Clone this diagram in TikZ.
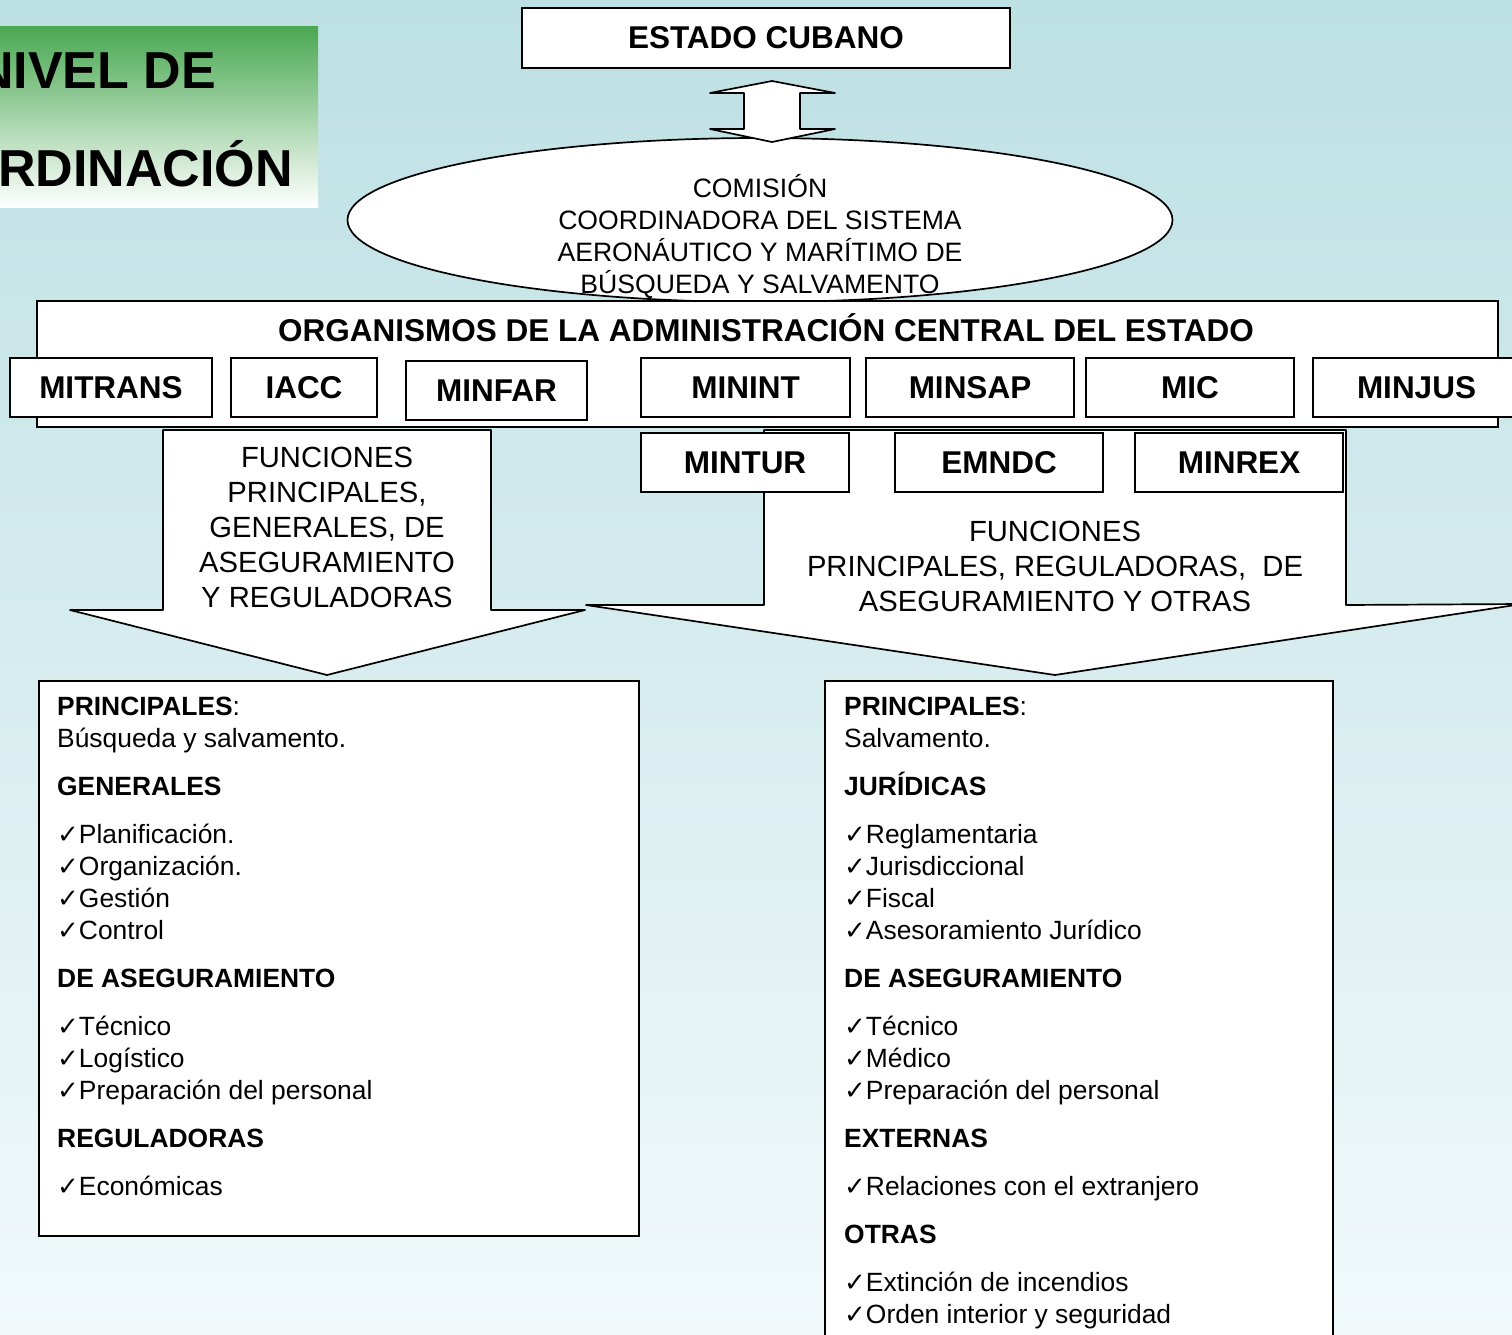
\documentclass[tikz,border=0pt]{standalone}
\usepackage{fontspec}
\setmainfont{Liberation Sans}
\newfontfamily\dejavu{DejaVu Sans}
\usetikzlibrary{shapes.geometric}
\definecolor{bgtop}{HTML}{BDE0E3}
\definecolor{bgbot}{HTML}{F1F9FB}
\definecolor{ttgreen}{HTML}{4AA852}
\newcommand\chk{{\dejavu\fontsize{26}{26}\selectfont ✓}}
\begin{document}
\begin{tikzpicture}[x=1pt,y=-1pt,line join=miter,
  box/.style={draw=black,fill=white,line width=1.7pt,inner sep=0pt},
  agency/.style={box,minimum width=208pt,minimum height=59pt,font=\bfseries\fontsize{31.5}{37}\selectfont},
  arrowtxt/.style={anchor=base,inner sep=0pt,font=\fontsize{29.2}{35}\selectfont},
  elltxt/.style={anchor=base,inner sep=0pt,font=\fontsize{26.6}{32}\selectfont},
  listline/.style={anchor=base west,inner sep=0pt,font=\fontsize{26.4}{32}\selectfont},
  titletxt/.style={anchor=base west,inner sep=0pt,font=\bfseries\fontsize{52}{60}\selectfont}]
\clip (0,0) rectangle (1512,1335);
\shade[top color=bgtop,bottom color=bgbot] (0,0) rectangle (1512,1335);
% title
\shade[top color=ttgreen,bottom color=white] (0,27) rectangle (318,207);
\node[titletxt] (t1) at (-24,89) {NIVEL DE};
\node[titletxt] (t2) at (-2,186) {RDINACIÓN};
% estado
\node[box,minimum width=488pt,minimum height=60pt,font=\bfseries\fontsize{31.5}{37}\selectfont] (estado) at (766,38) {ESTADO CUBANO};
% ellipse
\node[ellipse,box,minimum width=825pt,minimum height=164pt] (comision) at (760,220) {};
\draw[box,line join=round] (772,81) -- (835,93) -- (800,93) -- (800,129) -- (835,129) -- (772,142)
  -- (710,129) -- (744,129) -- (744,93) -- (710,93) -- cycle;
\node[elltxt] (c1) at (760,197.5) {COMISIÓN};
\node[elltxt] (c2) at (760,229.5) {COORDINADORA DEL SISTEMA};
\node[elltxt] (c3) at (760,261.5) {AERONÁUTICO Y MARÍTIMO DE};
\node[elltxt] (c4) at (760,293.5) {BÚSQUEDA Y SALVAMENTO};
% organismos
\node[box,anchor=north west,minimum width=1461pt,minimum height=126pt] (oace) at (36,300) {};
\node[anchor=base,inner sep=0pt,font=\bfseries\fontsize{31.5}{37}\selectfont] (oacet) at (766,341) {ORGANISMOS DE LA ADMINISTRACIÓN CENTRAL DEL ESTADO};
\node[agency,minimum width=202pt] (mitrans) at (111,387.5) {MITRANS};
\node[agency,minimum width=146pt] (iacc) at (304,387.5) {IACC};
\node[agency,minimum width=181pt] (minfar) at (496.5,390.5) {MINFAR};
\node[agency,minimum width=209pt] (minint) at (745.5,387.5) {MININT};
\node[agency] (minsap) at (970,387.5) {MINSAP};
\node[agency] (mic) at (1190,387.5) {MIC};
\node[agency,minimum width=207pt] (minjus) at (1416.5,387.5) {MINJUS};
% arrows
\draw[box,line join=round] (163,430) -- (491,430) -- (491,610) -- (585,610) -- (327,675) -- (70,610) -- (163,610) -- cycle;
\draw[box,line join=round] (764,430) -- (1346,430) -- (1346,605) -- (1522,604) -- (1055,675) -- (586,605) -- (764,605) -- cycle;
\node[agency] (mintur) at (745,462.5) {MINTUR};
\node[agency] (emndc) at (999,462.5) {EMNDC};
\node[agency] (minrex) at (1239,462.5) {MINREX};
\foreach \yy/\txt [count=\i] in {467.5/FUNCIONES,502.5/{PRINCIPALES,},537.5/{GENERALES, DE},572.5/ASEGURAMIENTO,607.5/Y REGULADORAS}
  \node[arrowtxt,name=fa\i] at (327,\yy) {\txt};
\foreach \yy/\txt [count=\i] in {541.5/FUNCIONES,576.5/{PRINCIPALES, REGULADORAS,\ \ DE},611.5/ASEGURAMIENTO Y OTRAS}
  \node[arrowtxt,name=fb\i] at (1055,\yy) {\txt};
% content boxes
\node[box,anchor=north west,minimum width=600pt,minimum height=555pt] (leftbox) at (38,680) {};
\node[box,anchor=north west,minimum width=508pt,minimum height=680pt] (rightbox) at (824,680) {};
\foreach \yy/\txt [count=\i] in {715/{\textbf{PRINCIPALES}:},747/{Búsqueda y salvamento.},795/{\textbf{GENERALES}},
  843/{\chk Planificación.},875/{\chk Organización.},907/{\chk Gestión},939/{\chk Control},
  987/{\textbf{DE ASEGURAMIENTO}},1035/{\chk Técnico},1067/{\chk Logístico},1099/{\chk Preparación del personal},
  1147/{\textbf{REGULADORAS}},1195/{\chk Económicas}}
  \node[listline,name=la\i] at (57,\yy) {\txt};
\foreach \yy/\txt [count=\i] in {715/{\textbf{PRINCIPALES}:},747/{Salvamento.},795/{\textbf{JURÍDICAS}},
  843/{\chk Reglamentaria},875/{\chk Jurisdiccional},907/{\chk Fiscal},939/{\chk Asesoramiento Jurídico},
  987/{\textbf{DE ASEGURAMIENTO}},1035/{\chk Técnico},1067/{\chk Médico},1099/{\chk Preparación del personal},
  1147/{\textbf{EXTERNAS}},1195/{\chk Relaciones con el extranjero},1243/{\textbf{OTRAS}},
  1291/{\chk Extinción de incendios},1323/{\chk Orden interior y seguridad}}
  \node[listline,name=lb\i] at (844,\yy) {\txt};
\end{tikzpicture}
\end{document}
